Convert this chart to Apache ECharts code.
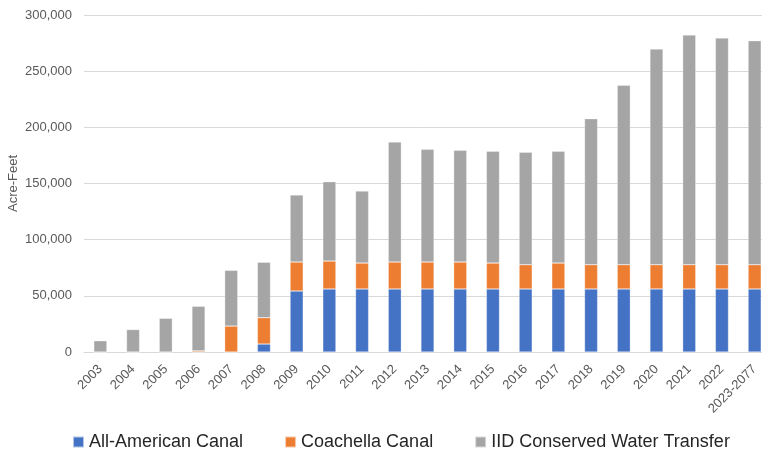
<!DOCTYPE html>
<html>
<head>
<meta charset="utf-8">
<script src="https://cdn.jsdelivr.net/npm/echarts@6/dist/echarts.min.js"></script>
<style>
    html, body { margin: 0; padding: 0; background: #fff; }
    #chart { width: 762px; height: 452px; }
</style>
</head>
<body>
<div id="chart"></div>
<script>
    // categories and stacked values (acre-feet)
    var years = ['2003', '2004', '2005', '2006', '2007', '2008', '2009', '2010', '2011', '2012', '2013',
        '2014', '2015', '2016', '2017', '2018', '2019', '2020', '2021', '2022', '2023-2077'];
    var allAmerican = [0, 0, 0, 0, 0, 7100, 54300, 56100, 56100, 56100, 56100,
        56100, 56100, 56100, 56100, 56100, 56100, 56100, 56100, 56100, 56100];
    var coachella = [0, 0, 0, 1000, 23100, 23400, 25800, 24900, 23100, 24000, 24000,
        24000, 23100, 21600, 23100, 21600, 21600, 21600, 21600, 21600, 21600];
    var iidTransfer = [10000, 20000, 30000, 39700, 49600, 49400, 59700, 70600, 64100, 106900, 100300,
        99400, 99500, 100100, 99400, 130000, 159700, 192000, 204500, 201800, 199400];

    var font = 'Liberation Sans';
    var chart = echarts.init(document.getElementById('chart'));

    function bar(name, data, color) {
        return {
            name: name,
            type: 'bar',
            stack: 'total',
            barWidth: '40%',
            data: data,
            itemStyle: {color: color, borderColor: 'rgba(255,255,255,0.6)', borderWidth: 0.5},
            emphasis: {disabled: true}
        };
    }

    chart.setOption({
        animation: false,
        textStyle: {fontFamily: font},
        // chart is clipped on the right in the original, so let the grid run past the edge
        grid: {left: 84, right: -9, top: 15, bottom: 100, outerBoundsMode: 'none'},
        legend: {
            left: 67,
            top: 428,
            icon: 'rect',
            itemWidth: 11,
            itemHeight: 11,
            itemGap: 41,
            textStyle: {fontSize: 18, color: '#262626', fontFamily: font}
        },
        xAxis: {
            type: 'category',
            data: years,
            axisLine: {lineStyle: {color: '#d9d9d9'}},
            axisTick: {show: false},
            axisLabel: {rotate: 45, color: '#595959', fontSize: 13, margin: 15, interval: 0}
        },
        yAxis: {
            type: 'value',
            min: 0,
            max: 300000,
            interval: 50000,
            name: 'Acre-Feet',
            nameLocation: 'middle',
            nameGap: 64,
            nameMoveOverlap: false,
            nameTextStyle: {color: '#595959', fontSize: 13},
            axisLabel: {color: '#595959', fontSize: 13, margin: 12},
            splitLine: {lineStyle: {color: '#d9d9d9'}}
        },
        series: [
            bar('All-American Canal', allAmerican, '#4472C4'),
            bar('Coachella Canal', coachella, '#ED7D31'),
            bar('IID Conserved Water Transfer', iidTransfer, '#A5A5A5')
        ]
    });
</script>
</body>
</html>
